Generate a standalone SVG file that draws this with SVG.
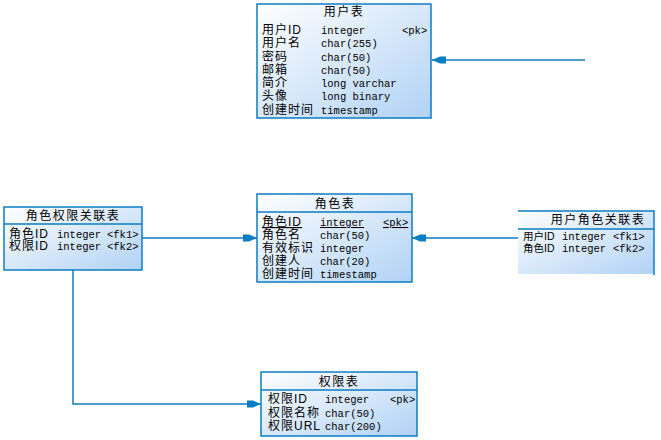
<svg xmlns="http://www.w3.org/2000/svg" width="661" height="440" viewBox="0 0 661 440">
<style>
.box{fill:url(#g);stroke:#0b7dc3;stroke-width:1.5}
.ln{stroke:#0b7dc3;stroke-width:1.5;fill:none}
.t{font-family:"Liberation Sans","Noto Sans CJK SC",sans-serif;font-size:12px;letter-spacing:1px;fill:#000}
.ts{font-family:"Liberation Sans","Noto Sans CJK SC",sans-serif;font-size:10.5px;fill:#000}
.tt{font-family:"Liberation Sans","Noto Sans CJK SC",sans-serif;font-size:12px;letter-spacing:1.5px;fill:#000;text-anchor:middle}
.m{font-family:"Liberation Mono","Noto Sans CJK SC",monospace;font-size:10.5px;fill:#000}
.c{stroke:#0b7dc3;stroke-width:1.5;fill:none;marker-end:url(#a)}
.u{text-decoration:underline}
</style>
<defs>
<linearGradient id="g" x1="0" y1="0" x2="1" y2="1">
<stop offset="0" stop-color="#ffffff"/>
<stop offset="1" stop-color="#b1d2f6"/>
</linearGradient>
<marker id="a" markerUnits="userSpaceOnUse" markerWidth="16" markerHeight="10" refX="15" refY="5" orient="auto" viewBox="0 0 16 10">
<polygon points="15,5 7,1.5 1,1.5 1,8.5 7,8.5" fill="#0b7dc3"/>
</marker>
</defs>
<rect width="661" height="440" fill="#fff"/>

<g id="connectors">
<path class="c" d="M585,60 H432"/>
<path class="c" d="M142,238 H257"/>
<path class="c" d="M518,238 H412"/>
<path class="c" d="M73,270 V404 H261"/>
</g>

<g id="user">
<rect class="box" x="257" y="4" width="174" height="114"/>
<text class="tt" x="344" y="16">用户表</text>
<text class="t" x="262" y="34">用户ID</text><text class="m" x="321" y="34">integer</text><text class="m" x="402" y="34">&lt;pk&gt;</text>
<text class="t" x="262" y="47">用户名</text><text class="m" x="321" y="47">char(255)</text>
<text class="t" x="262" y="60.5">密码</text><text class="m" x="321" y="60.5">char(50)</text>
<text class="t" x="262" y="73.5">邮箱</text><text class="m" x="321" y="73.5">char(50)</text>
<text class="t" x="262" y="87">简介</text><text class="m" x="321" y="87">long varchar</text>
<text class="t" x="262" y="100">头像</text><text class="m" x="321" y="100">long binary</text>
<text class="t" x="262" y="113.5">创建时间</text><text class="m" x="321" y="113.5">timestamp</text>
</g>

<g id="role">
<rect class="box" x="257" y="194" width="155" height="88"/>
<line class="ln" x1="257" y1="212" x2="412" y2="212"/>
<text class="tt" x="335" y="207.5">角色表</text>
<text class="t u" x="262" y="226">角色ID</text><text class="m u" x="320" y="226">integer</text><text class="m u" x="383" y="226">&lt;pk&gt;</text>
<text class="t" x="262" y="238.5">角色名</text><text class="m" x="320" y="238.5">char(50)</text>
<text class="t" x="262" y="251.5">有效标识</text><text class="m" x="320" y="251.5">integer</text>
<text class="t" x="262" y="265">创建人</text><text class="m" x="320" y="265">char(20)</text>
<text class="t" x="262" y="278">创建时间</text><text class="m" x="320" y="278">timestamp</text>
</g>

<g id="role-perm">
<rect class="box" x="4" y="207" width="138" height="63"/>
<line class="ln" x1="4" y1="224" x2="142" y2="224"/>
<text class="tt" x="73" y="219.5">角色权限关联表</text>
<text class="t" x="9" y="237.5">角色ID</text><text class="m" x="57" y="237.5">integer</text><text class="m" x="107" y="237.5">&lt;fk1&gt;</text>
<text class="t" x="9" y="250">权限ID</text><text class="m" x="57" y="250">integer</text><text class="m" x="107" y="250">&lt;fk2&gt;</text>
</g>

<g id="user-role">
<rect x="518" y="211" width="136" height="63" fill="url(#g)"/>
<path class="ln" d="M518,211 H654 V275"/>
<line class="ln" x1="518" y1="229" x2="654" y2="229"/>
<text class="tt" x="598" y="223.5">用户角色关联表</text>
<text class="ts" x="523" y="240">用户ID</text><text class="m" x="562" y="240">integer</text><text class="m" x="613" y="240">&lt;fk1&gt;</text>
<text class="ts" x="523" y="252">角色ID</text><text class="m" x="562" y="252">integer</text><text class="m" x="613" y="252">&lt;fk2&gt;</text>
</g>

<g id="perm">
<rect class="box" x="261" y="372" width="156" height="64"/>
<line class="ln" x1="261" y1="390" x2="417" y2="390"/>
<text class="tt" x="339" y="385.5">权限表</text>
<text class="t" x="268" y="402.5">权限ID</text><text class="m" x="325" y="402.5">integer</text><text class="m" x="390" y="402.5">&lt;pk&gt;</text>
<text class="t" x="268" y="416.5">权限名称</text><text class="m" x="325" y="416.5">char(50)</text>
<text class="t" x="268" y="430">权限URL</text><text class="m" x="325" y="430">char(200)</text>
</g>
</svg>
